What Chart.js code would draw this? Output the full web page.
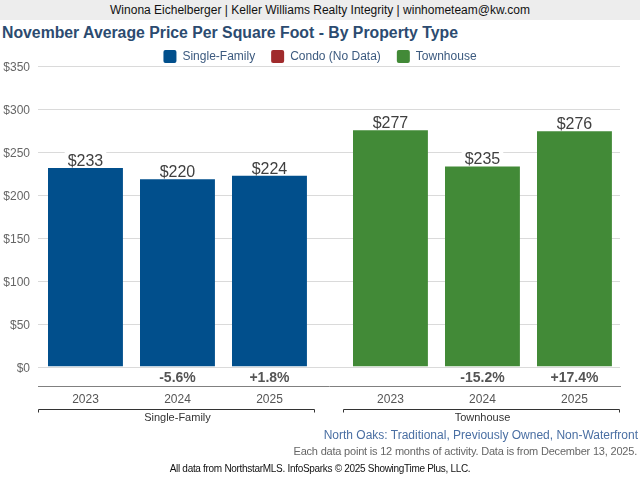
<!DOCTYPE html>
<html>
<head>
<meta charset="utf-8">
<script src="https://cdn.jsdelivr.net/npm/chart.js@4"></script>
<style>
    body { margin: 0; width: 640px; height: 480px; overflow: hidden; background: #fff; font-family: "Liberation Sans", Arial, sans-serif; position: relative; }
    #header { position: absolute; left: 0; top: 0; width: 640px; height: 20px; background: #ededed; color: #111; font-size: 12px; line-height: 20px; text-align: center; }
    #title { position: absolute; left: 2px; top: 23px; color: #2c4b70; font-size: 15.8px; font-weight: bold; line-height: 20px; white-space: nowrap; }
    .foot { position: absolute; white-space: nowrap; }
    #area { right: 2px; top: 428px; font-size: 12px; color: #4a6fa3; }
    #note { right: 3px; top: 445px; font-size: 11px; color: #666; letter-spacing: -0.2px; }
    #source { left: 0; width: 640px; text-align: center; top: 463px; font-size: 10px; color: #111; letter-spacing: -0.3px; }
    #wrap { position: absolute; left: 0; top: 0; width: 640px; height: 480px; }
</style>
</head>
<body>
<div id="header">Winona Eichelberger | Keller Williams Realty Integrity | winhometeam@kw.com</div>
<div id="title">November Average Price Per Square Foot - By Property Type</div>
<div id="wrap"><canvas id="priceChart" width="640" height="480"></canvas></div>
<div class="foot" id="area">North Oaks: Traditional, Previously Owned, Non-Waterfront</div>
<div class="foot" id="note">Each data point is 12 months of activity. Data is from December 13, 2025.</div>
<div class="foot" id="source">All data from NorthstarMLS. InfoSparks © 2025 ShowingTime Plus, LLC.</div>

<script>
// البيانات
const years = ['2023', '2024', '2025'];
const groups = ['Single-Family', 'Townhouse'];
const singleFamily = [233, 220, 224];
const condo = [];
const townhouse = [277, 235, 276];
const singleFamilyChange = ['', '-5.6%', '+1.8%'];
const townhouseChange = ['', '-15.2%', '+17.4%'];

// فراغ بين المجموعتين (بوحدة العمود)
const GROUP_GAP = 0.315;
const FONT = '"Liberation Sans", Arial, sans-serif';

const slot = (g, i) => g * (years.length + GROUP_GAP) + i;
const xPos = groups.flatMap((g, gi) => years.map((y, i) => slot(gi, i)));
const yearLabels = groups.flatMap(() => years);
const changeLabels = singleFamilyChange.concat(townhouseChange);
const groupCenters = groups.map((g, gi) => slot(gi, (years.length - 1) / 2));

const xMin = -0.516;
const xMax = slot(groups.length - 1, years.length - 1) + 0.495;

// قيم فوق الأعمدة
const valueLabels = {
    id: 'valueLabels',
    afterDatasetsDraw(chart) {
        const ctx = chart.ctx;
        ctx.save();
        ctx.font = '16px ' + FONT;
        ctx.textAlign = 'center';
        ctx.textBaseline = 'alphabetic';
        chart.data.datasets.forEach((ds, di) => {
            const meta = chart.getDatasetMeta(di);
            meta.data.forEach((bar, i) => {
                const text = '$' + ds.data[i].y;
                const w = ctx.measureText(text).width;
                const top = bar.y + 1.5;
                ctx.fillStyle = '#fff';
                ctx.fillRect(bar.x - w / 2 - 3, top - 19, w + 6, 18);
                ctx.fillStyle = '#404040';
                ctx.fillText(text, bar.x, top - 2);
            });
        });
        ctx.restore();
    }
};

// أقواس المجموعات
const groupBrackets = {
    id: 'groupBrackets',
    afterDraw(chart) {
        const scale = chart.scales.xGroup;
        const ctx = chart.ctx;
        const y = scale.top + 5.5;
        ctx.save();
        ctx.strokeStyle = '#333';
        ctx.lineWidth = 1;
        groups.forEach((g, gi) => {
            const x1 = Math.round(scale.getPixelForValue(slot(gi, 0) - 0.516)) + 0.5;
            const x2 = Math.round(scale.getPixelForValue(slot(gi, years.length - 1) + 0.49)) - 0.5;
            ctx.beginPath();
            ctx.moveTo(x1, y + 3);
            ctx.lineTo(x1, y);
            ctx.lineTo(x2, y);
            ctx.lineTo(x2, y + 3);
            ctx.stroke();
        });
        ctx.restore();
    }
};

// ارتفاع وسيلة الإيضاح
const legendHeight = {
    id: 'legendHeight',
    beforeInit(chart) {
        const fit = chart.legend.fit;
        chart.legend.fit = function() {
            fit.bind(this)();
            this.height = 32;
        };
    }
};

function fixedHeight(h) {
    return scale => { scale.height = h; };
}

function setTicks(values) {
    return scale => { scale.ticks = values.map(v => ({ value: v })); };
}

function createPriceChart() {
    const ctx = document.getElementById('priceChart');

    const barStyle = {
        borderWidth: { top: 1.5, left: 0, right: 0, bottom: 0 },
        borderColor: '#fff',
        borderSkipped: 'bottom',
        xAxisID: 'x'
    };

    new Chart(ctx, {
        type: 'bar',
        data: {
            datasets: [
                Object.assign({
                    label: 'Single-Family',
                    data: singleFamily.map((v, i) => ({ x: slot(0, i), y: v })),
                    backgroundColor: '#014f8c'
                }, barStyle),
                Object.assign({
                    label: 'Condo (No Data)',
                    data: condo,
                    backgroundColor: '#a02b2c'
                }, barStyle),
                Object.assign({
                    label: 'Townhouse',
                    data: townhouse.map((v, i) => ({ x: slot(1, i), y: v })),
                    backgroundColor: '#428a37'
                }, barStyle)
            ]
        },
        options: {
            responsive: false,
            animation: false,
            layout: {
                padding: { top: 34, left: 0, right: 0, bottom: 54 }
            },
            datasets: {
                bar: {
                    grouped: false,
                    categoryPercentage: 1,
                    barPercentage: 0.815
                }
            },
            plugins: {
                legend: {
                    position: 'top',
                    labels: {
                        boxWidth: 13,
                        boxHeight: 13,
                        useBorderRadius: true,
                        borderRadius: 2,
                        padding: 16,
                        color: '#3c5a7f',
                        font: { family: FONT, size: 12 },
                        generateLabels: chart => Chart.defaults.plugins.legend.labels.generateLabels(chart)
                            .map(item => Object.assign(item, { lineWidth: 0 }))
                    }
                },
                tooltip: { enabled: false }
            },
            scales: {
                y: {
                    min: 0,
                    max: 350,
                    afterFit: scale => { scale.width = 38; },
                    ticks: {
                        stepSize: 50,
                        padding: 8,
                        labelOffset: 2,
                        color: '#666',
                        font: { family: FONT, size: 12 },
                        callback: value => '$' + value
                    },
                    grid: { color: '#dadada', drawTicks: false },
                    border: { display: false }
                },
                // محور فارغ على اليمين لحجز المسافة
                yRight: {
                    position: 'right',
                    min: 0,
                    max: 350,
                    afterFit: scale => { scale.width = 20; },
                    ticks: { display: false },
                    grid: { display: false, drawTicks: false },
                    border: { display: false }
                },
                xPct: {
                    type: 'linear',
                    position: 'bottom',
                    weight: 0,
                    min: xMin,
                    max: xMax,
                    offset: false,
                    afterBuildTicks: setTicks(xPos),
                    afterFit: fixedHeight(19),
                    ticks: {
                        autoSkip: false,
                        maxRotation: 0,
                        padding: 3,
                        color: '#555',
                        font: { family: FONT, size: 14, weight: 'bold' },
                        callback: (value, i) => changeLabels[i]
                    },
                    grid: { display: false, drawTicks: false },
                    border: { display: false }
                },
                x: {
                    type: 'linear',
                    position: 'bottom',
                    weight: 1,
                    min: xMin,
                    max: xMax,
                    offset: false,
                    afterBuildTicks: setTicks(xPos),
                    afterFit: fixedHeight(18),
                    ticks: {
                        autoSkip: false,
                        maxRotation: 0,
                        padding: 6,
                        color: '#555',
                        font: { family: FONT, size: 12 },
                        callback: (value, i) => yearLabels[i]
                    },
                    grid: { display: false, drawTicks: false },
                    border: { display: true, color: '#808080', width: 1 }
                },
                xGroup: {
                    type: 'linear',
                    position: 'bottom',
                    weight: 2,
                    min: xMin,
                    max: xMax,
                    offset: false,
                    afterBuildTicks: setTicks(groupCenters),
                    afterFit: fixedHeight(22),
                    ticks: {
                        autoSkip: false,
                        maxRotation: 0,
                        padding: 7,
                        color: '#333',
                        font: { family: FONT, size: 11 },
                        callback: (value, i) => groups[i]
                    },
                    grid: { display: false, drawTicks: false },
                    border: { display: false }
                }
            }
        },
        plugins: [legendHeight, valueLabels, groupBrackets]
    });
}

createPriceChart();
</script>
</body>
</html>
